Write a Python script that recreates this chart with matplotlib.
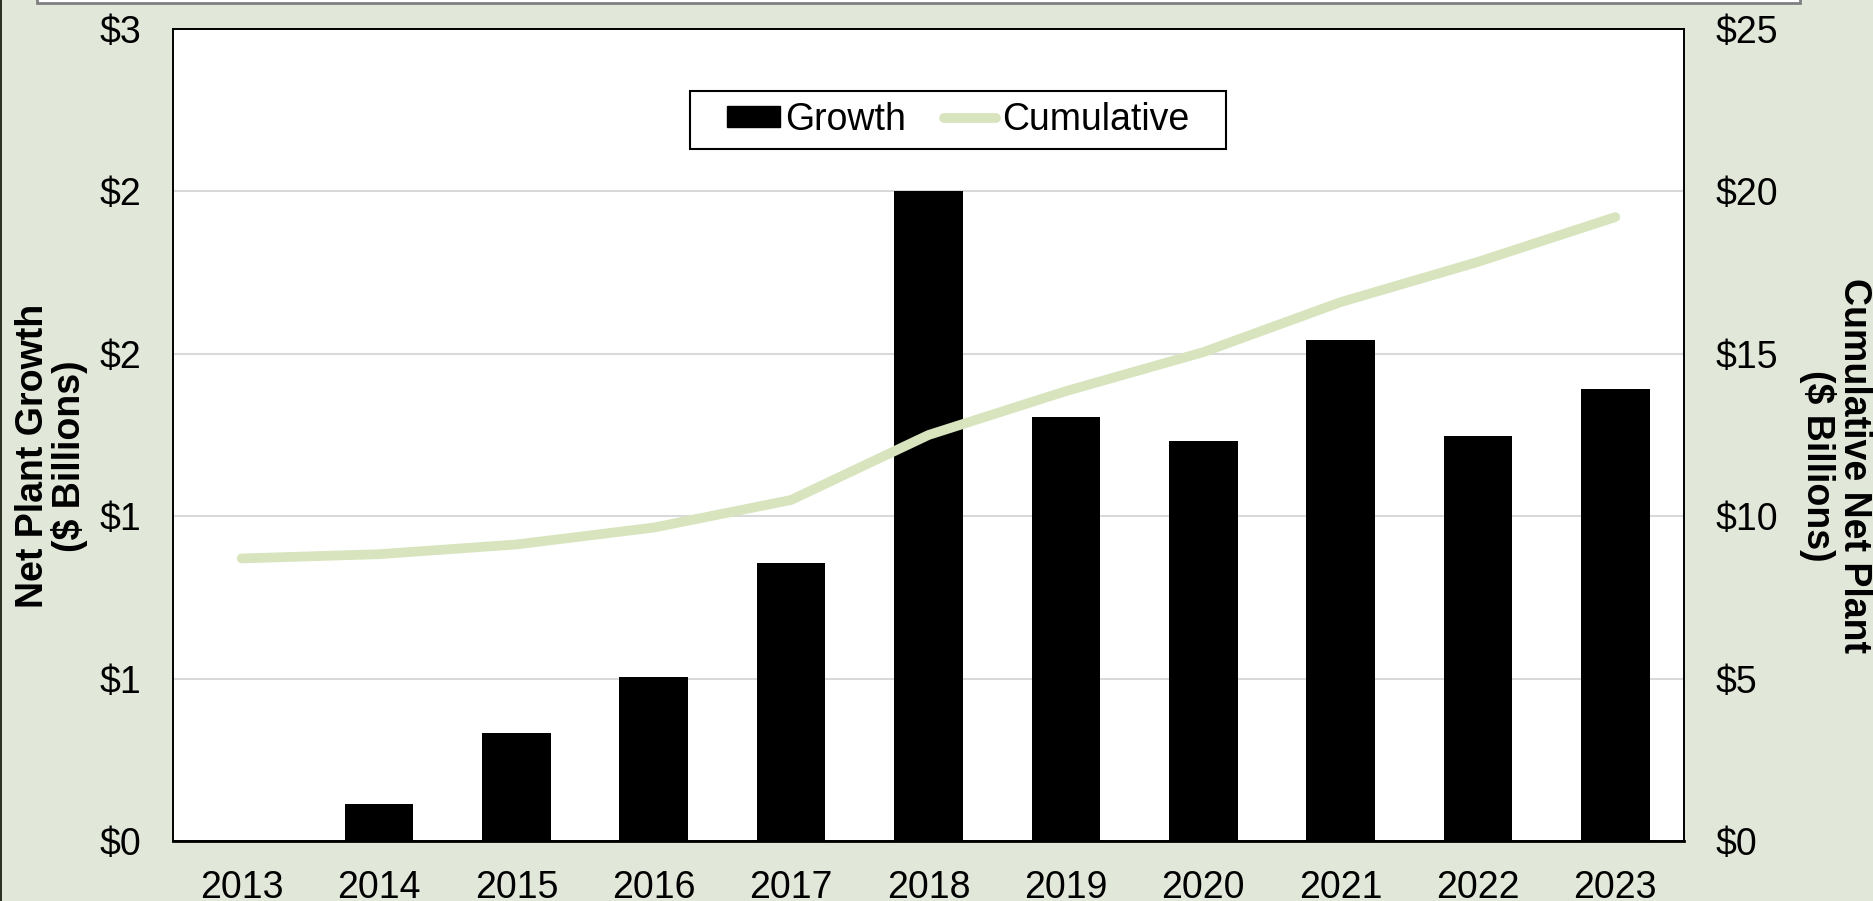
import numpy as np
import matplotlib.pyplot as plt
from matplotlib.patches import Rectangle, Patch
from matplotlib.lines import Line2D
from matplotlib.ticker import FuncFormatter, MultipleLocator

plt.rcParams["font.family"] = ["Liberation Sans", "DejaVu Sans"]

years = ["2013", "2014", "2015", "2016", "2017", "2018",
         "2019", "2020", "2021", "2022", "2023"]
growth = [0.0, 0.115, 0.331, 0.505, 0.857, 2.0,
          1.306, 1.230, 1.541, 1.247, 1.393]
cumulative = [8.70, 8.83, 9.13, 9.65, 10.50, 12.50,
              13.85, 15.05, 16.59, 17.83, 19.21]

bg = "#E1E8DA"
line_col = "#D7E4BD"
fs = 27

fig = plt.figure(figsize=(18.74, 9.01), dpi=100, facecolor=bg)
ax = fig.add_axes([173 / 1874, 1 - 841 / 901, 1511 / 1874, 812 / 901])
ax2 = ax.twinx()

x = np.arange(len(years))
ax.bar(x, growth, width=0.5, color="black", zorder=2)
ax.set_xlim(-0.5, len(years) - 0.5)
ax.set_ylim(0, 2.5)
ax.yaxis.set_major_locator(MultipleLocator(0.5))
# excel style rounding: 0.5 -> $1, 2.5 -> $3
ax.yaxis.set_major_formatter(FuncFormatter(lambda v, p: f"${int(np.floor(v + 0.5))}"))
ax.grid(axis="y", color="#D9D9D9", lw=1.5, zorder=0)
ax.set_axisbelow(True)
ax.set_xticks(x)
ax.set_xticklabels(years)
ax.tick_params(axis="y", length=0, labelsize=fs, pad=23)
ax.tick_params(axis="x", length=0, labelsize=fs, pad=21)
ax.set_facecolor("white")

ax2.plot(x, cumulative, color=line_col, lw=7, solid_capstyle="round",
         solid_joinstyle="round", zorder=3)
ax2.set_ylim(0, 25)
ax2.yaxis.set_major_locator(MultipleLocator(5))
ax2.yaxis.set_major_formatter(FuncFormatter(lambda v, p: f"${int(v)}"))
ax2.tick_params(axis="y", length=0, labelsize=fs, pad=23)

for a in (ax, ax2):
    for s in a.spines.values():
        s.set_color("black")
        s.set_linewidth(1.2)
ax.spines["bottom"].set_linewidth(2)

fig.text(52 / 1874, 1 - 456 / 901, "Net Plant Growth\n($ Billions)",
         rotation=90, ha="center", va="center", fontsize=fs,
         fontweight="bold", linespacing=1.0)
fig.text(1836 / 1874, 1 - 466 / 901, "Cumulative Net Plant\n($ Billions)",
         rotation=270, ha="center", va="center", fontsize=fs,
         fontweight="bold", linespacing=1.0)

# legend without its own frame, box drawn separately (wider side padding)
handles = [Patch(facecolor="black", edgecolor="black"),
           Line2D([0], [0], color=line_col, lw=7, solid_capstyle="round")]
leg = ax2.legend(handles, ["Growth", "Cumulative"], ncol=2, loc="center",
                 bbox_to_anchor=(958 / 1874, 1 - 120 / 901),
                 bbox_transform=fig.transFigure, fontsize=fs,
                 frameon=False, handlelength=1.4, handleheight=0.5,
                 handletextpad=0.15, columnspacing=1.0, borderpad=0.3,
                 borderaxespad=0)
ax2.add_artist(Rectangle((690 / 1874, 1 - 149 / 901), 536 / 1874, 58 / 901,
                         transform=fig.transFigure, facecolor="white",
                         edgecolor="black", lw=1.5, zorder=4))
leg.set_zorder(5)

# bits of the slide around the chart
fig.add_artist(Rectangle((37 / 1874, 1 - 3 / 901), 1763 / 1874, 20 / 901,
                         transform=fig.transFigure, facecolor="white",
                         edgecolor="#808080", lw=2))
fig.add_artist(Rectangle((0, 0), 2.5 / 1874, 1, transform=fig.transFigure,
                         facecolor="#2B3327", edgecolor="none"))

fig.savefig("out.png", dpi=100, facecolor=bg)
